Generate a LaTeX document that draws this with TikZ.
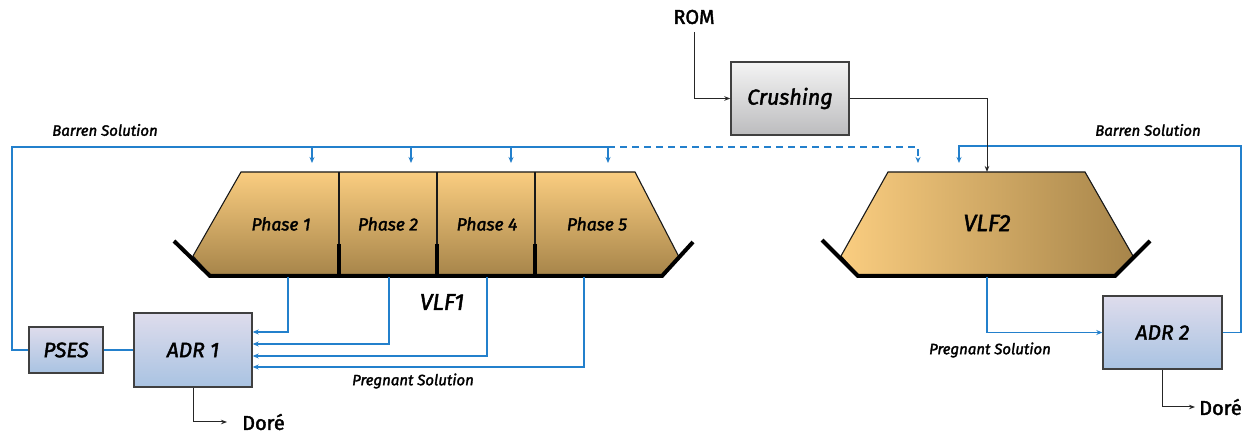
\documentclass[tikz,border=0pt]{standalone}
\usepackage{fontspec}
\setmainfont{Fira Sans}
\newfontfamily\semifont{Fira Sans}[FakeBold=2]
\usetikzlibrary{calc,arrows.meta}
\definecolor{flowblue}{HTML}{2380CC}
\definecolor{heaplight}{HTML}{FACD80}
\definecolor{heapdark}{HTML}{A7854A}
\definecolor{boxtop}{HTML}{DEDCEC}
\definecolor{boxbot}{HTML}{A9C3E2}
\definecolor{graytop}{HTML}{F4F4F4}
\definecolor{graybot}{HTML}{BCBCBE}
\tikzset{
  flow/.style={draw=flowblue, line width=1.4pt},
  flowarrow/.style={flow, -{Stealth[length=6pt,width=5pt]}},
  feed/.style={draw=black!85, line width=1pt, -{Stealth[length=6pt,width=4.5pt]}},
  unitbox/.style={draw=black!75, line width=1.4pt, top color=boxtop, bottom color=boxbot,
    font=\semifont\itshape\fontsize{21}{23}\selectfont, inner sep=0pt},
  crushbox/.style={draw=black!75, line width=1.4pt, top color=graytop, bottom color=graybot,
    font=\semifont\itshape\fontsize{21.5}{23}\selectfont, inner sep=0pt},
  outline/.style={draw=black!90, line width=1.1pt},
  liner/.style={draw=black, line width=4pt, line join=miter},
  divider/.style={draw=black, line width=3.5pt},
  phaselbl/.style={font=\semifont\itshape\fontsize{17.5}{19}\selectfont},
  heaplbl/.style={font=\semifont\itshape\fontsize{23}{25}\selectfont},
  streamlbl/.style={font=\semifont\itshape\fontsize{15}{17}\selectfont},
  plainlbl/.style={font=\semifont\fontsize{20}{22}\selectfont, inner sep=0pt}
}
\begin{document}
\begin{tikzpicture}[x=1pt,y=-1pt]
\useasboundingbox[fill=white] (0,0) rectangle (1243,435);

% ---- heap leach pad VLF1 ----
\path[outline, top color=heaplight, bottom color=heapdark]
  (241,172) -- (635,172) -- (679,257) -- (662,275) -- (210,275) -- (193,256) -- cycle;
\foreach \x in {339,437,535} {
  \draw[black!90, line width=1.1pt] (\x,172) -- (\x,246);
  \draw[divider] (\x,244) -- (\x,277);
}
\draw[liner] (174,241) -- (210,276) -- (662,276) -- (693,242);
\node[phaselbl] (ph1) at (281,224) {Phase 1};
\node[phaselbl] (ph2) at (388,224) {Phase 2};
\node[phaselbl] (ph4) at (487,224) {Phase 4};
\node[phaselbl] (ph5) at (597,224) {Phase 5};
\node[heaplbl] (vlf1) at (442,302) {VLF1};

% ---- heap leach pad VLF2 ----
\path[outline, left color=heaplight, right color=heapdark]
  (888,172) -- (1085,172) -- (1133,256) -- (1115,275) -- (858,275) -- (841,256) -- cycle;
\draw[liner] (822,240) -- (858,276) -- (1115,276) -- (1150,241);
\node[heaplbl, font=\semifont\itshape\fontsize{23.5}{25}\selectfont] (vlf2) at (987,223) {VLF2};

% ---- process units ----
\node[unitbox, minimum width=74pt, minimum height=46pt] (pses) at (66,350) {PSES};
\node[unitbox, minimum width=118pt, minimum height=74pt] (adr1) at (193,350) {ADR 1};
\node[unitbox, minimum width=119pt, minimum height=73pt] (adr2) at (1162.5,332.5) {ADR 2};
\node[crushbox, minimum width=118pt, minimum height=73pt] (crush) at (790,98.5) {Crushing};

% ---- text labels ----
\node[plainlbl] (rom) at (694,17) {ROM};
\node[plainlbl, anchor=west] (dore1) at (242,422) {Doré};
\node[plainlbl, anchor=west] (dore2) at (1199,407) {Doré};
\node[streamlbl] (barrenL) at (105,130) {Barren Solution};
\node[streamlbl] (barrenR) at (1148,130) {Barren Solution};
\node[streamlbl] (pregL) at (413,381) {Pregnant Solution};
\node[streamlbl] (pregR) at (990,350) {Pregnant Solution};

% ---- connector points ----
\coordinate (bl) at (12,147);
\coordinate (s1) at (312,147);
\coordinate (s2) at (411,147);
\coordinate (s3) at (511,147);
\coordinate (s4) at (608,147);
\coordinate (v2d) at (918,163);
\coordinate (br) at (1241,146);
\coordinate (v2b) at (959,163);
\coordinate (v2feed) at (987,172);
\coordinate (o1) at (288,277);
\coordinate (o2) at (389,277);
\coordinate (o3) at (487,277);
\coordinate (o4) at (584,277);
\coordinate (o5) at (987,277);

% ---- barren solution to VLF1 ----
\draw[flow] (pses.west) -| (bl) -- (s4);
\foreach \s in {s1,s2,s3,s4} \draw[flowarrow] (\s) -- ($(\s)+(0,16)$);
\draw[flowarrow, dashed, dash pattern=on 7pt off 5pt] (s4) -| (v2d);
\draw[flow] (pses.east) -- (adr1.west);

% ---- pregnant solution from VLF1 ----
\draw[flowarrow] (o1) |- ($(adr1.east)+(0,-18)$);
\draw[flowarrow] (o2) |- ($(adr1.east)+(0,-6)$);
\draw[flowarrow] (o3) |- ($(adr1.east)+(0,6)$);
\draw[flowarrow] (o4) |- ($(adr1.east)+(0,17)$);

% ---- VLF2 circuit ----
\draw[flowarrow] (o5) |- (adr2.west);
\draw[flowarrow] (adr2.east) -| (br) -| (v2b);

% ---- ore feed and products ----
\draw[feed] (rom.south) ++(0,8) |- (crush.west);
\draw[feed] (crush.east) -| (v2feed);
\draw[feed] (adr1.south) |- ($(dore1.west)+(-15,0)$);
\draw[feed] (adr2.south) |- ($(dore2.west)+(-4,0)$);
\end{tikzpicture}
\end{document}
